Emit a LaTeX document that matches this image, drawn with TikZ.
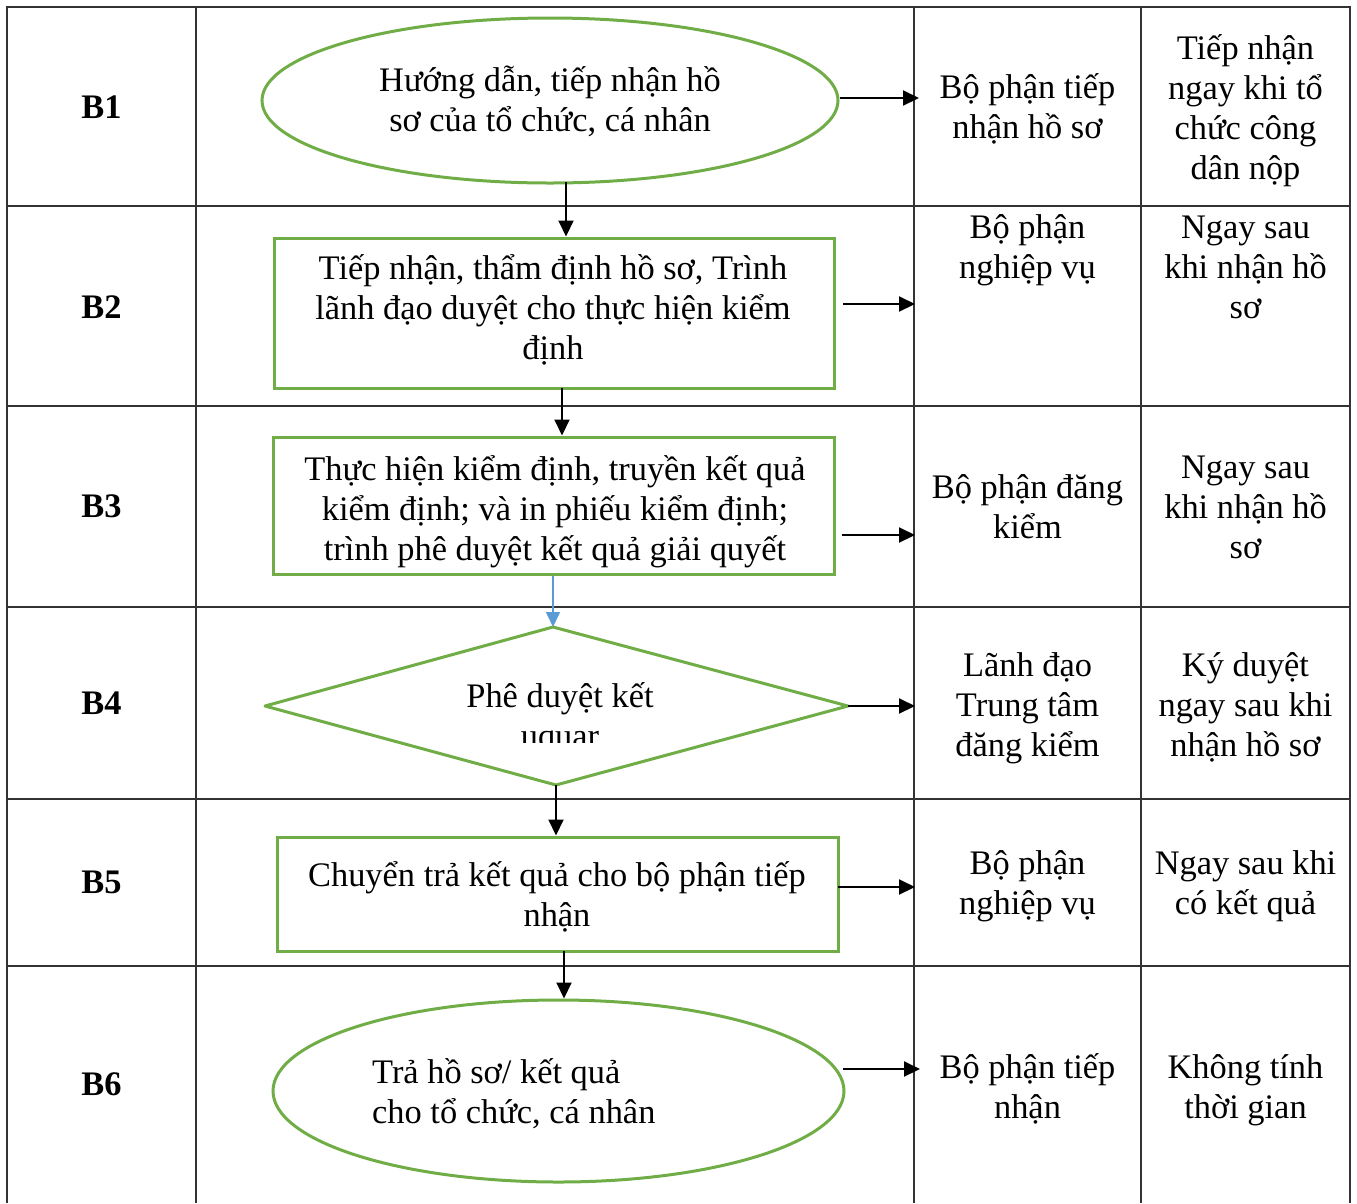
\documentclass[tikz,border=0pt]{standalone}
\usepackage{fontspec}
\setmainfont{Liberation Serif}
\usetikzlibrary{arrows.meta,shapes.geometric,calc}
\definecolor{grn}{HTML}{70AD47}
\definecolor{blu}{HTML}{5B9BD5}
\definecolor{gridc}{HTML}{333333}
\newcommand\mlc[1]{\vtop{\lineskiplimit=-1000pt\halign{\hfil##\hfil\cr#1\crcr}}}
\newcommand\mll[1]{\vtop{\lineskiplimit=-1000pt\halign{##\hfil\cr#1\crcr}}}
\begin{document}
\begin{tikzpicture}[x=1pt,y=-1pt,
  txt/.style={inner sep=0pt, anchor=base, font=\fontsize{34.4}{40}\selectfont},
  lbl/.style={inner sep=0pt, anchor=base, font=\fontsize{34.4}{40}\selectfont\bfseries},
  gridline/.style={draw=gridc, line width=1.8pt},
  gbox/.style={draw=grn, line width=3pt, inner sep=0pt},
  arr/.style={draw=black, line width=2pt, -{Triangle[length=16pt,width=15pt]}},
  barr/.style={draw=blu, line width=1.5pt, -{Triangle[length=15pt,width=14pt]}}]
\useasboundingbox (0,0) rectangle (1357,1203);
% table grid
\draw[gridline] (7,1203) -- (7,7) -- (1350,7) -- (1350,1203);
\foreach \x in {196,914,1141} \draw[gridline] (\x,7) -- (\x,1203);
\foreach \y in {206,406,607,799,966} \draw[gridline] (7,\y) -- (1350,\y);
% step labels
\node[lbl] (b1) at (101.5,118) {B1};
\node[lbl] (b2) at (101.5,318) {B2};
\node[lbl] (b3) at (101.5,517) {B3};
\node[lbl] (b4) at (101.5,714) {B4};
\node[lbl] (b5) at (101.5,893) {B5};
\node[lbl] (b6) at (101.5,1095) {B6};
% shapes
\node[gbox, ellipse, minimum width=576pt, minimum height=165pt] (e1) at (550,100.5) {};
\node[gbox, rectangle, minimum width=560pt, minimum height=150pt] (r2) at (554,313) {};
\node[gbox, rectangle, minimum width=561pt, minimum height=137pt] (r3) at (553.5,505.5) {};
\coordinate (dl) at (265,706);
\coordinate (dt) at (553,627);
\coordinate (dr) at (848,706);
\coordinate (db) at (556,785);
\draw[draw=grn, line width=3pt, line join=round] (dl) -- (dt) -- (dr) -- (db) -- cycle;
\node[gbox, rectangle, minimum width=561pt, minimum height=114pt] (r5) at (557.5,894) {};
\node[gbox, ellipse, minimum width=571pt, minimum height=182pt] (e6) at (558.5,1091) {};
% texts in shapes
\node[txt] (t1) at (550,91) {\mlc{Hướng dẫn, tiếp nhận hồ\cr sơ của tổ chức, cá nhân}};
\node[txt] (t2) at (553,279) {\mlc{Tiếp nhận, thẩm định hồ sơ, Trình\cr lãnh đạo duyệt cho thực hiện kiểm\cr định}};
\node[txt] (t3) at (555,480) {\mlc{Thực hiện kiểm định, truyền kết quả\cr kiểm định; và in phiếu kiểm định;\cr trình phê duyệt kết quả giải quyết}};
\begin{scope}
\clip (200,600) rectangle (900,742);
\node[txt] (t4) at (560,707) {\mlc{Phê duyệt kết\cr uquar}};
\end{scope}
\node[txt] (t5) at (557,886) {\mlc{Chuyển trả kết quả cho bộ phận tiếp\cr nhận}};
\node[txt, anchor=base west] (t6) at (372,1083) {\mll{Trả hồ sơ/ kết quả\cr cho tổ chức, cá nhân}};
% column 3
\node[txt] (c31) at (1027.5,98) {\mlc{Bộ phận tiếp\cr nhận hồ sơ}};
\node[txt] (c32) at (1027.5,238) {\mlc{Bộ phận\cr nghiệp vụ}};
\node[txt] (c33) at (1027.5,498) {\mlc{Bộ phận đăng\cr kiểm}};
\node[txt] (c34) at (1027.5,676) {\mlc{Lãnh đạo\cr Trung tâm\cr đăng kiểm}};
\node[txt] (c35) at (1027.5,874) {\mlc{Bộ phận\cr nghiệp vụ}};
\node[txt] (c36) at (1027.5,1078) {\mlc{Bộ phận tiếp\cr nhận}};
% column 4
\node[txt] (c41) at (1245.5,59) {\mlc{Tiếp nhận\cr ngay khi tổ\cr chức công\cr dân nộp}};
\node[txt] (c42) at (1245.5,238) {\mlc{Ngay sau\cr khi nhận hồ\cr sơ}};
\node[txt] (c43) at (1245.5,478) {\mlc{Ngay sau\cr khi nhận hồ\cr sơ}};
\node[txt] (c44) at (1245.5,676) {\mlc{Ký duyệt\cr ngay sau khi\cr nhận hồ sơ}};
\node[txt] (c45) at (1245.5,874) {\mlc{Ngay sau khi\cr có kết quả}};
\node[txt] (c46) at (1245.5,1078) {\mlc{Không tính\cr thời gian}};
% side arrows
\coordinate (a1) at (919,98);
\coordinate (s2) at (843,304); \coordinate (a2) at (915,304);
\coordinate (s3) at (842,535); \coordinate (a3) at (915,535);
\coordinate (a4) at (915,706);
\coordinate (s5) at (838,887); \coordinate (a5) at (915,887);
\coordinate (s6) at (843,1069); \coordinate (a6) at (920,1069);
\draw[arr] (e1.east |- a1) -- (a1);
\draw[arr] (s2) -- (a2);
\draw[arr] (s3) -- (a3);
\draw[arr] (dr) -- (a4);
\draw[arr] (s5) -- (a5);
\draw[arr] (s6) -- (a6);
% down arrows
\coordinate (v1) at (566,182);
\coordinate (v2) at (562,388);
\coordinate (v5) at (564,951);
\draw[arr] (v1) -- (v1 |- r2.north);
\draw[arr] (v2) -- (v2 |- r3.north);
\draw[barr] (dt |- r3.south) -- (dt);
\draw[arr] (db) -- (db |- r5.north);
\draw[arr] (v5) -- (v5 |- e6.north);
\end{tikzpicture}
\end{document}
